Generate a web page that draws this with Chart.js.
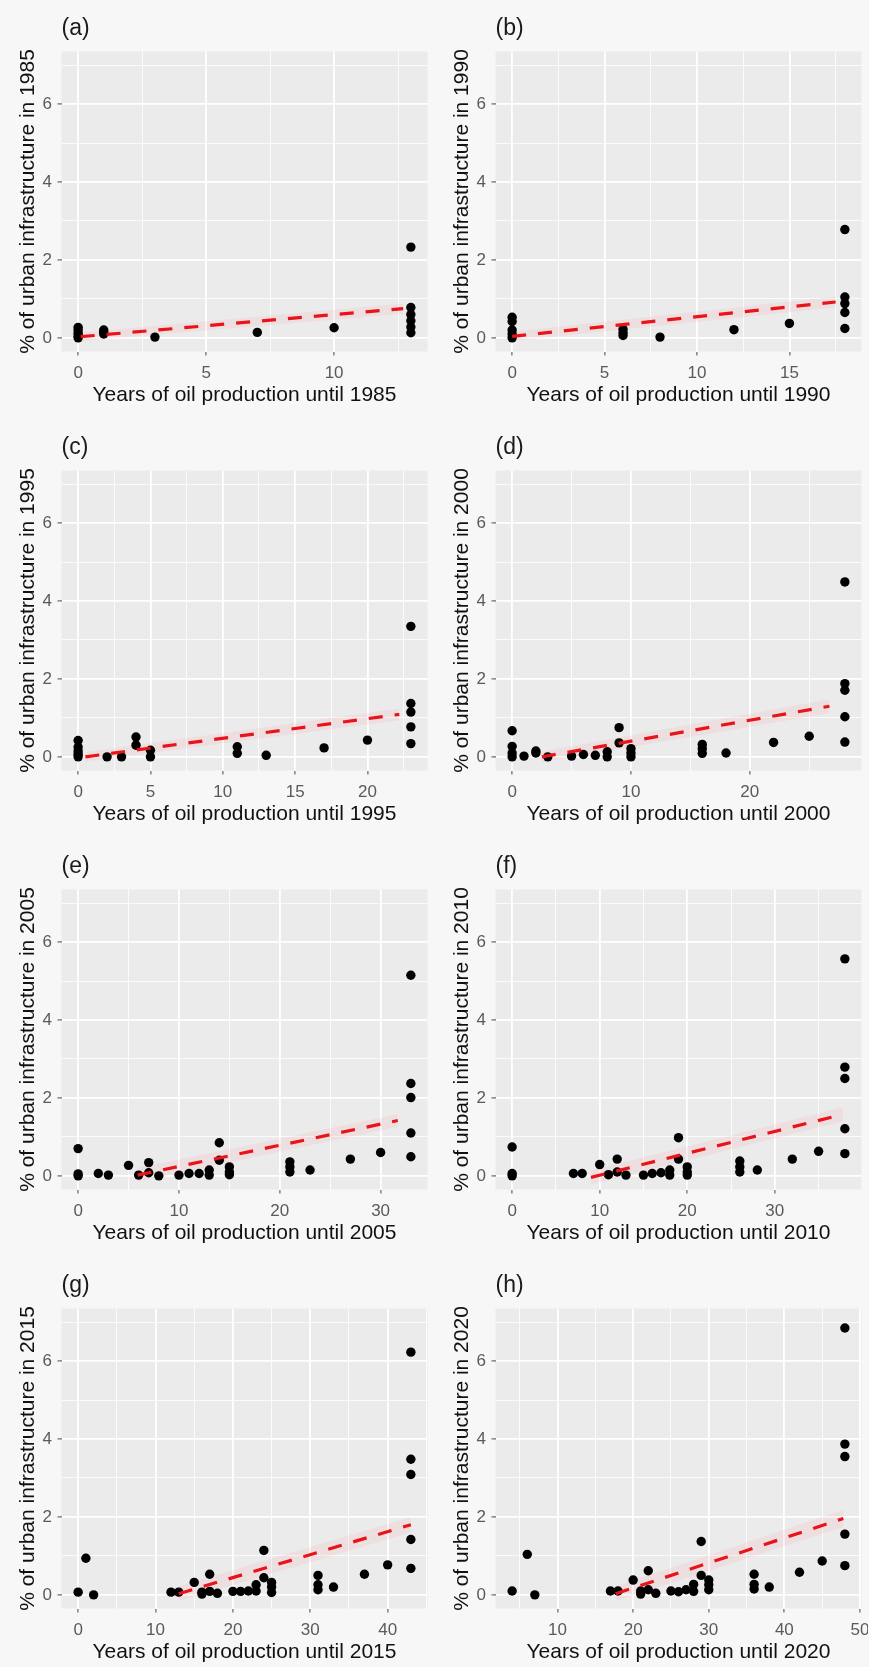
<!DOCTYPE html>
<html>
<head>
<meta charset="utf-8">
<script src="https://cdn.jsdelivr.net/npm/chart.js@4.4.1/dist/chart.umd.min.js"></script>
<style>
  html, body { margin: 0; padding: 0; background: #f7f7f7; }
  #wrap { position: relative; width: 869px; height: 1667px; overflow: hidden; }
  #wrap canvas { position: absolute; }
</style>
</head>
<body>
<div id="wrap"></div>
<script>
// one panel per survey year
const years = [1985, 1990, 1995, 2000, 2005, 2010, 2015, 2020];
const panelTags = ['(a)', '(b)', '(c)', '(d)', '(e)', '(f)', '(g)', '(h)'];

// years of oil production (x) vs % of urban infrastructure (y)
const xA = [0, 0, 0, 0, 0, 1, 1, 1, 3, 7, 10, 13, 13, 13, 13, 13, 13];
const yA = [0.27, 0.2, 0.12, 0.05, 0.0, 0.2, 0.15, 0.1, 0.02, 0.14, 0.26, 2.33, 0.78, 0.6, 0.44, 0.28, 0.13];

const xB = [0, 0, 0, 0, 0, 6, 6, 6, 8, 12, 15, 18, 18, 18, 18, 18];
const yB = [0.53, 0.42, 0.2, 0.1, 0.0, 0.22, 0.13, 0.06, 0.02, 0.21, 0.37, 2.78, 1.05, 0.88, 0.65, 0.24];

const xC = [0, 0, 0, 0, 0, 2, 3, 4, 4, 5, 5, 11, 11, 13, 17, 20, 23, 23, 23, 23, 23];
const yC = [0.42, 0.25, 0.15, 0.07, 0.0, 0.0, 0.0, 0.51, 0.3, 0.17, 0.0, 0.26, 0.09, 0.04, 0.23, 0.43, 3.35, 1.37, 1.15, 0.77, 0.34];

const xD = [0, 0, 0, 0, 1, 2, 2, 3, 5, 6, 7, 8, 8, 9, 9, 10, 10, 10, 16, 16, 16, 18, 22, 25, 28, 28, 28, 28, 28];
const yD = [0.67, 0.27, 0.1, 0.0, 0.02, 0.15, 0.1, 0.0, 0.02, 0.06, 0.04, 0.13, 0.0, 0.75, 0.36, 0.21, 0.1, 0.0, 0.32, 0.21, 0.09, 0.1, 0.37, 0.53, 4.49, 1.88, 1.71, 1.03, 0.38];

const xE = [0, 0, 0, 2, 3, 5, 6, 7, 7, 8, 10, 11, 12, 13, 13, 14, 14, 15, 15, 15, 21, 21, 21, 23, 27, 30, 33, 33, 33, 33, 33];
const yE = [0.7, 0.05, 0.0, 0.06, 0.02, 0.27, 0.02, 0.34, 0.08, 0.0, 0.02, 0.06, 0.06, 0.15, 0.02, 0.85, 0.4, 0.23, 0.1, 0.03, 0.36, 0.23, 0.1, 0.15, 0.43, 0.6, 5.15, 2.37, 2.01, 1.1, 0.49];

const xF = [0, 0, 0, 7, 8, 10, 11, 12, 12, 13, 15, 16, 17, 18, 18, 19, 19, 20, 20, 20, 26, 26, 26, 28, 32, 35, 38, 38, 38, 38, 38];
const yF = [0.74, 0.06, 0.0, 0.06, 0.06, 0.29, 0.03, 0.43, 0.1, 0.02, 0.02, 0.06, 0.08, 0.15, 0.02, 0.98, 0.43, 0.23, 0.1, 0.02, 0.38, 0.23, 0.1, 0.15, 0.43, 0.63, 5.57, 2.79, 2.5, 1.21, 0.57];

const xG = [0, 1, 2, 12, 13, 15, 16, 16, 17, 17, 18, 20, 21, 22, 23, 23, 24, 24, 25, 25, 25, 31, 31, 31, 33, 37, 40, 43, 43, 43, 43, 43];
const yG = [0.07, 0.94, 0.0, 0.07, 0.07, 0.32, 0.07, 0.02, 0.53, 0.09, 0.04, 0.09, 0.09, 0.1, 0.26, 0.1, 1.14, 0.44, 0.32, 0.2, 0.06, 0.5, 0.26, 0.13, 0.2, 0.53, 0.77, 6.23, 3.48, 3.09, 1.42, 0.68];

const xH = [4, 6, 7, 17, 18, 20, 21, 21, 22, 22, 23, 25, 26, 27, 28, 28, 29, 29, 30, 30, 30, 36, 36, 36, 38, 42, 45, 48, 48, 48, 48, 48];
const yH = [0.1, 1.04, 0.0, 0.1, 0.1, 0.38, 0.1, 0.02, 0.62, 0.13, 0.04, 0.1, 0.08, 0.13, 0.27, 0.09, 1.37, 0.5, 0.38, 0.26, 0.13, 0.53, 0.27, 0.15, 0.2, 0.58, 0.87, 6.85, 3.87, 3.55, 1.56, 0.75];

const xs = [xA, xB, xC, xD, xE, xF, xG, xH];
const ys = [yA, yB, yC, yD, yE, yF, yG, yH];

// dashed linear fit, start and end points
const fitX = [[0.1, 12.7], [0, 17.5], [0.5, 22.2], [2.5, 26.7], [5.9, 31.7], [9, 37.8], [13, 43], [17.7, 47.8]];
const fitY = [[0.03, 0.75], [0.04, 0.92], [0.0, 1.09], [0.0, 1.3], [0.02, 1.42], [-0.04, 1.58], [0.03, 1.8], [0.03, 1.96]];
// faint band round the fit
const bandLow = [[-0.08, 0.62], [-0.08, 0.78], [-0.12, 0.94], [-0.14, 1.12], [-0.16, 1.26], [-0.22, 1.4], [-0.16, 1.6], [-0.16, 1.74]];
const bandHigh = [[0.14, 0.88], [0.16, 1.06], [0.12, 1.24], [0.14, 1.48], [0.2, 1.58], [0.14, 1.76], [0.22, 2.0], [0.22, 2.18]];

// axes
const xLimits = [[-0.65, 13.65], [-0.9, 18.9], [-1.15, 24.15], [-1.4, 29.4], [-1.65, 34.65], [-1.9, 39.9], [-2.15, 45.15], [1.8, 50.2]];
const xTicks = [[0, 5, 10], [0, 5, 10, 15], [0, 5, 10, 15, 20], [0, 10, 20], [0, 10, 20, 30], [0, 10, 20, 30], [0, 10, 20, 30, 40], [10, 20, 30, 40, 50]];
const yLimits = [-0.35, 7.35];
const yTicks = [0, 2, 4, 6];

Chart.defaults.font.family = "'Liberation Sans', Arial, sans-serif";

// gray panel behind the grid, and the (a)...(h) tag
const panelDeco = {
  id: 'panelDeco',
  beforeDraw(chart) {
    const { ctx, chartArea: a } = chart;
    ctx.save();
    ctx.fillStyle = '#ebebeb';
    ctx.fillRect(a.left, a.top, a.width, a.height);
    ctx.restore();
  },
  afterDraw(chart, args, opts) {
    const { ctx, chartArea: a } = chart;
    ctx.save();
    ctx.font = "23px 'Liberation Sans', Arial, sans-serif";
    ctx.fillStyle = '#1a1a1a';
    ctx.textBaseline = 'middle';
    ctx.fillText(opts.tag, a.left, 29);
    ctx.restore();
  }
};

// majors plus the half-way minor lines
function withMinor(majors, lo, hi) {
  const step = majors[1] - majors[0];
  const all = [];
  majors.forEach(v => all.push(v, v - step / 2));
  all.push(majors[majors.length - 1] + step / 2);
  return all.filter(v => v >= lo && v <= hi).sort((p, q) => p - q);
}

const W = 434, H = 410;
const rowTop = [0, 419, 838, 1257];
const wrap = document.getElementById('wrap');

years.forEach((yr, i) => {
  const cv = document.createElement('canvas');
  cv.width = W;
  cv.height = H;
  cv.style.left = (i % 2 === 0 ? 0 : 434) + 'px';
  cv.style.top = rowTop[Math.floor(i / 2)] + 'px';
  wrap.appendChild(cv);

  const [xMin, xMax] = xLimits[i];
  const xMaj = xTicks[i];
  const xAll = withMinor(xMaj, xMin, xMax);
  const yAll = withMinor(yTicks, yLimits[0], yLimits[1]);

  const pts = xs[i].map((x, k) => ({ x: x, y: ys[i][k] }));
  const fit = fitX[i].map((x, k) => ({ x: x, y: fitY[i][k] }));
  const lo = fitX[i].map((x, k) => ({ x: x, y: bandLow[i][k] }));
  const hi = fitX[i].map((x, k) => ({ x: x, y: bandHigh[i][k] }));

  new Chart(cv.getContext('2d'), {
    type: 'scatter',
    data: {
      datasets: [
        { data: lo, showLine: true, borderWidth: 0, pointRadius: 0, fill: false, order: 2, clip: 0 },
        { data: hi, showLine: true, borderWidth: 0, pointRadius: 0, fill: '-1',
          backgroundColor: 'rgba(255,150,150,0.13)', order: 2, clip: 0 },
        { data: pts, pointRadius: 4.7, backgroundColor: '#000', borderWidth: 0, order: 1 },
        { data: fit, showLine: true, pointRadius: 0, borderColor: '#e8141a', borderWidth: 3.2,
          borderDash: [14, 12], borderCapStyle: 'butt', order: 0, clip: 0 }
      ]
    },
    options: {
      responsive: false,
      animation: false,
      events: [],
      layout: { padding: { top: 51.5, right: 6.5, bottom: 0, left: 0 } },
      plugins: {
        legend: { display: false },
        tooltip: { enabled: false },
        panelDeco: { tag: panelTags[i] }
      },
      scales: {
        x: {
          type: 'linear',
          min: xMin,
          max: xMax,
          afterBuildTicks: s => { s.ticks = xAll.map(v => ({ value: v })); },
          afterFit: s => { s.height = 58.5; s.paddingLeft = 0; s.paddingRight = 0; },
          border: { display: false },
          grid: {
            color: '#ffffff',
            lineWidth: c => xMaj.includes(c.tick.value) ? 1.8 : 0.8,
            tickLength: 4,
            tickWidth: 1.2,
            tickColor: c => xMaj.includes(c.tick.value) ? '#666' : 'rgba(0,0,0,0)'
          },
          ticks: {
            autoSkip: false,
            maxRotation: 0,
            padding: 8,
            color: '#5a5a5a',
            font: { size: 17 },
            callback: v => xMaj.includes(v) ? String(v) : ''
          },
          title: {
            display: true,
            text: 'Years of oil production until ' + yr,
            color: '#111',
            font: { size: 21 },
            padding: { top: 0, bottom: 2.4 }
          }
        },
        y: {
          type: 'linear',
          min: yLimits[0],
          max: yLimits[1],
          afterBuildTicks: s => { s.ticks = yAll.map(v => ({ value: v })); },
          afterFit: s => { s.width = 61.5; s.paddingTop = 0; s.paddingBottom = 0; },
          border: { display: false },
          grid: {
            color: '#ffffff',
            lineWidth: c => yTicks.includes(c.tick.value) ? 1.8 : 0.8,
            tickLength: 4,
            tickWidth: 1.2,
            tickColor: c => yTicks.includes(c.tick.value) ? '#666' : 'rgba(0,0,0,0)'
          },
          ticks: {
            autoSkip: false,
            padding: 5.5,
            color: '#5a5a5a',
            font: { size: 17 },
            callback: v => yTicks.includes(v) ? String(v) : ''
          },
          title: {
            display: true,
            text: '% of urban infrastructure in ' + yr,
            color: '#111',
            font: { size: 21 },
            padding: { top: 15.4, bottom: 0 }
          }
        }
      }
    },
    plugins: [panelDeco]
  });
});
</script>
</body>
</html>
